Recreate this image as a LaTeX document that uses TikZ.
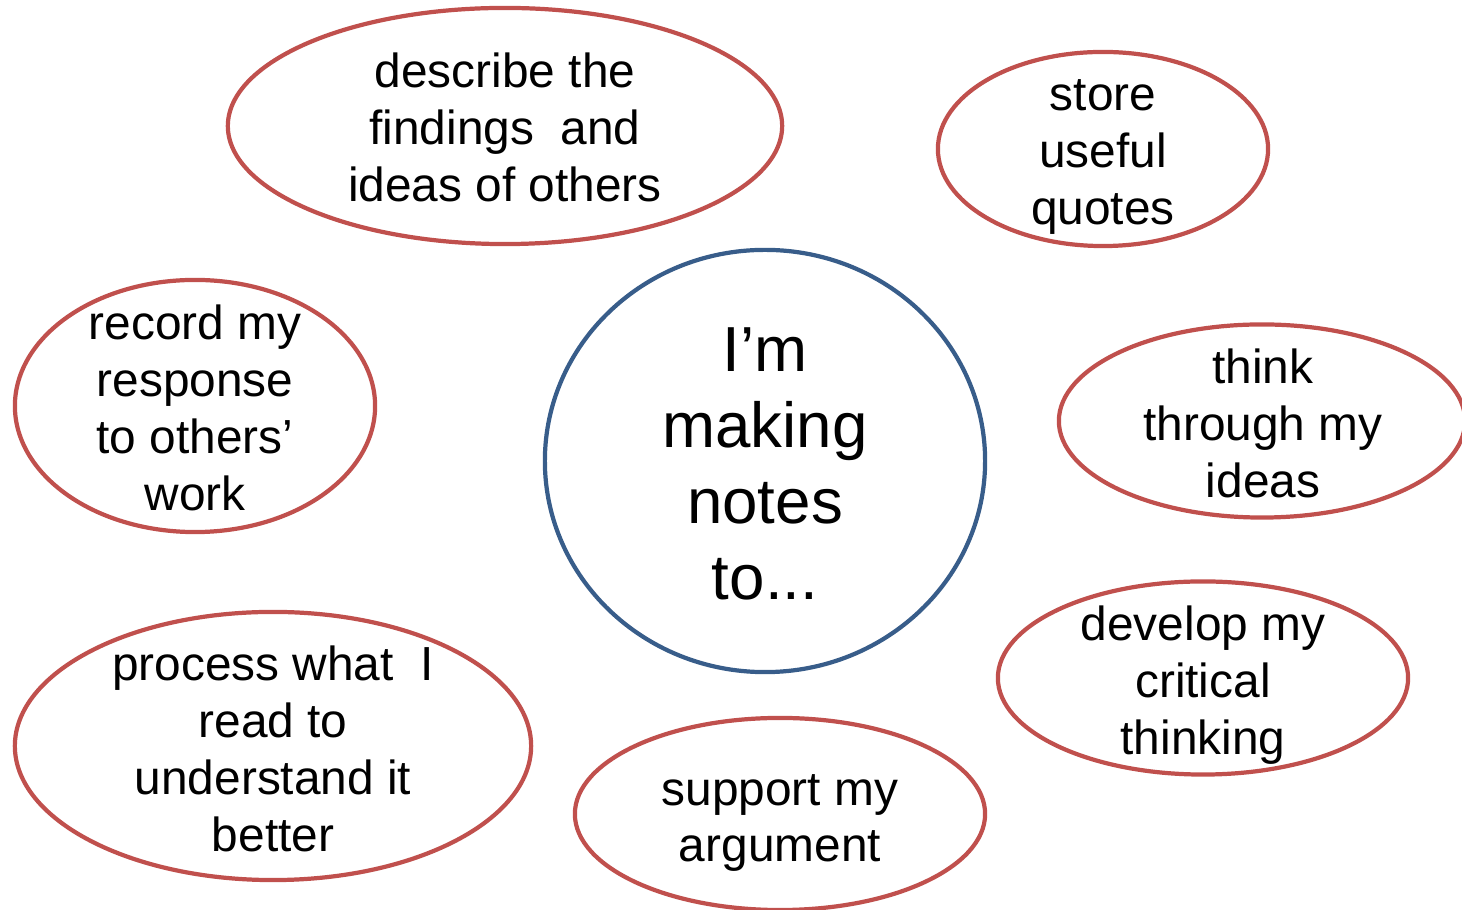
\documentclass[tikz,border=0pt]{standalone}
\usepackage{fontspec}
\setmainfont{Liberation Sans}
\usetikzlibrary{shapes.geometric}

\definecolor{bubblered}{RGB}{192,80,77}
\definecolor{hubblue}{RGB}{56,93,138}

\begin{document}
\begin{tikzpicture}[x=0.01cm, y=-0.01cm,
    bubble/.style={ellipse, draw=bubblered, line width=1.2pt, inner sep=0pt},
    hub/.style={ellipse, draw=hubblue, line width=1.2pt, inner sep=0pt},
    words/.style={align=center, inner sep=0pt, font=\fontsize{13.6}{16.2}\selectfont},
    bigwords/.style={align=center, inner sep=0pt, font=\fontsize{18.1}{21.6}\selectfont}]

        \clip (0,0) rectangle (1462,910);

        % centre circle
        \node[hub, minimum width=4.40cm, minimum height=4.22cm] (notes) at (765,461) {};
        \node[bigwords] at (765,464) {I’m\\making\\notes\\to...};

        % reasons around it
        \node[bubble, minimum width=5.54cm, minimum height=2.36cm] (describe) at (505,126) {};
        \node[words] at (505,127) {describe the\\findings\ \ and\\ideas of others};

        \node[bubble, minimum width=3.30cm, minimum height=1.94cm] (store) at (1103,149) {};
        \node[words] at (1103,157) {store\\useful\\quotes};

        \node[bubble, minimum width=3.60cm, minimum height=2.52cm] (record) at (195,406) {};
        \node[words] at (195,408) {record my\\response\\to others’\\work};

        \node[bubble, minimum width=4.06cm, minimum height=1.93cm] (think) at (1262,421) {};
        \node[words] at (1263,423) {think\\through my\\ideas};

        \node[bubble, minimum width=4.10cm, minimum height=1.93cm] (develop) at (1203,678) {};
        \node[words] at (1203,685) {develop my\\critical\\thinking};

        \node[bubble, minimum width=5.16cm, minimum height=2.68cm] (process) at (273,746) {};
        \node[words] at (273,749) {process what\ \ I\\read to\\understand it\\better};

        \node[bubble, minimum width=4.10cm, minimum height=1.92cm] (support) at (780,814) {};
        \node[words] at (780,823) {support my\\argument};

\end{tikzpicture}
\end{document}
